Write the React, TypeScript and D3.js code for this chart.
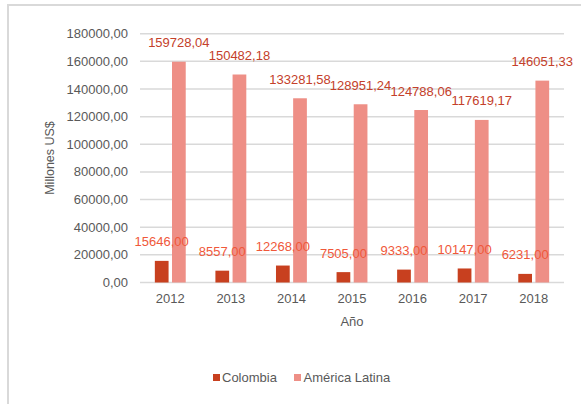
import React from "react";
import * as d3 from "d3";

const years = ["2012", "2013", "2014", "2015", "2016", "2017", "2018"];
const colombia = [15646.0, 8557.0, 12268.0, 7505.0, 9333.0, 10147.0, 6231.0];
const americaLatina = [159728.04, 150482.18, 133281.58, 128951.24, 124788.06, 117619.17, 146051.33];
const seriesNames = ["Colombia", "América Latina"];
const yTicks = [0, 20000, 40000, 60000, 80000, 100000, 120000, 140000, 160000, 180000];

const W = 581;
const H = 404;
const FONT = "'Liberation Sans', Arial, sans-serif";
const GRAY = "#595959";
const GRID = "#d9d9d9";
const barColors = ["#C8401F", "#EE8F86"];
const labelColors = ["#F0583A", "#C4402A"];

const fmt = (v: number) => v.toFixed(2).replace(".", ",");

export default function App() {
  const left = 140, right = 564, top = 33.7, bottom = 282.5;
  const x0 = d3.scaleBand<string>().domain(years).range([left, right]).paddingInner(0.49).paddingOuter(0.245);
  const x1 = d3.scaleBand<string>().domain(seriesNames).range([0, x0.bandwidth()]).paddingInner(0.2);
  const y = d3.scaleLinear().domain([0, 180000]).range([bottom, top]);
  const series = [colombia, americaLatina];

  return (
    <svg width={W} height={H} style={{ position: "absolute", left: 0, top: 0 }} fontFamily={FONT}>
      <rect x={0} y={0} width={W} height={H} fill="#fff" />
      <rect x={8} y={5} width={W + 10} height={H + 10} fill="none" stroke={GRID} strokeWidth={2} />
      {yTicks.map((t) => (
        <g key={t}>
          <line x1={left} x2={right} y1={y(t)} y2={y(t)} stroke={GRID} strokeWidth={1.5} />
          <text x={128} y={y(t)} dy="0.35em" textAnchor="end" fontSize={13} fill={GRAY}>
            {fmt(t)}
          </text>
        </g>
      ))}
      {years.map((yr, i) => (
        <g key={yr}>
          {series.map((s, k) => {
            const bx = (x0(yr) as number) + (x1(seriesNames[k]) as number);
            return (
              <rect key={k} x={bx} y={y(s[i])} width={x1.bandwidth()} height={bottom - y(s[i])} fill={barColors[k]} />
            );
          })}
          <text x={(x0(yr) as number) + x0.bandwidth() / 2} y={298.5} dy="0.35em" textAnchor="middle" fontSize={13} fill={GRAY}>
            {yr}
          </text>
        </g>
      ))}
      {years.map((yr, i) =>
        series.map((s, k) => {
          const cx = (x0(yr) as number) + (x1(seriesNames[k]) as number) + x1.bandwidth() / 2;
          return (
            <text key={yr + k} x={cx} y={y(s[i]) - 19} dy="0.35em" textAnchor="middle" fontSize={13} fill={labelColors[k]}>
              {fmt(s[i])}
            </text>
          );
        })
      )}
      <text x={(left + right) / 2} y={321.7} dy="0.35em" textAnchor="middle" fontSize={13} fill={GRAY}>
        Año
      </text>
      <text transform={`translate(49.5,158) rotate(-90)`} dy="0.35em" textAnchor="middle" fontSize={12.5} fill={GRAY}>
        Millones US$
      </text>
      <g>
        <rect x={213} y={374} width={7} height={7} fill={barColors[0]} />
        <text x={222} y={377.5} dy="0.35em" fontSize={13} fill={GRAY}>Colombia</text>
        <rect x={294} y={374} width={7} height={7} fill={barColors[1]} />
        <text x={303.5} y={377.5} dy="0.35em" fontSize={13} fill={GRAY}>América Latina</text>
      </g>
    </svg>
  );
}
